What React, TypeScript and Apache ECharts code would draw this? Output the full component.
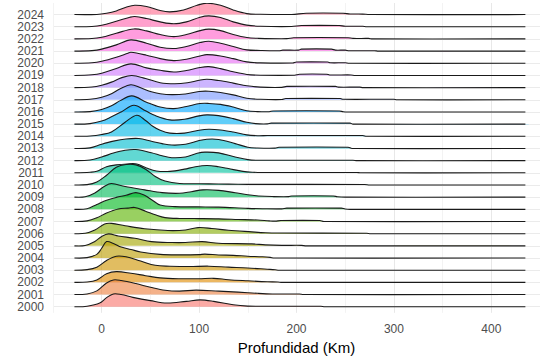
import React, { useEffect, useRef } from "react";
import * as echarts from "echarts";

const YEARS = [
  "2000", "2001", "2002", "2003", "2004", "2005", "2006", "2007", "2008", "2009",
  "2010", "2011", "2012", "2013", "2014", "2015", "2016", "2017", "2018", "2019",
  "2020", "2021", "2022", "2023", "2024",
];
const X_TICKS = [0, 100, 200, 300, 400];
const X_TITLE = "Profundidad (Km)";

// density heights: [depth km, height] (10 = one row spacing)
const r2000 = [[-28,0],[-15,0.4],[-2,3],[5,7.5],[12,10.5],[20,10],[32,7.7],[50,5],[67,3],[87,4.4],[101,5.6],[115,4.4],[135,1.6],[150,0.5],[165,0.4],[225,0.4],[229,0],[435,0]];
const r2001 = [[-28,0],[-15,0.5],[-5,3],[5,9.5],[12,12],[20,11.5],[35,9],[50,6],[65,3.5],[80,2.8],[97,3.6],[120,2.8],[140,2],[160,1],[175,0.5],[203,0.4],[207,0],[435,0]];
const r2002 = [[-28,0],[-15,0.3],[-5,2],[5,7],[15,8.8],[30,7.5],[45,5.5],[60,3.7],[80,3],[100,3],[115,3.3],[130,2.2],[150,1.3],[170,0.5],[181,0.3],[185,0],[435,0]];
const r2003 = [[-28,0],[-15,0.5],[-5,2.5],[5,8],[15,11.5],[25,11],[40,7.5],[55,4],[70,3.3],[90,3],[110,3.3],[130,2.5],[150,1.8],[170,0.8],[178,0.4],[182,0],[435,0]];
const r2004 = [[-28,0],[-15,0.3],[-5,3],[0,8],[5,13.5],[12,12],[20,9],[30,7],[40,5],[60,3],[80,2.6],[100,2.8],[106,3.2],[120,2.5],[135,2.2],[150,1.5],[165,1],[173,0.5],[177,0],[435,0]];
const r2005 = [[-28,0],[-17,0.3],[-7,3.6],[0,7.7],[7,9.8],[17,8.1],[34,6.2],[51,3.5],[72,2.7],[86,2.7],[103,3.5],[120,2.1],[154,1.6],[168,0.8],[185,0.4],[205,0.4],[210,0],[435,0]];
const r2006 = [[-28,0],[-17,0.3],[-7,3],[3,8],[10,8.5],[24,6.5],[44,4],[68,2.6],[86,3],[99,5],[113,4.3],[130,2.8],[154,1.5],[168,0.8],[180,0.5],[272,0.4],[276,0],[435,0]];
const r2007 = [[-28,0],[-15,0.5],[-5,3],[5,7],[17,10.3],[27,11],[34,11.5],[45,8.5],[55,5.5],[65,3.2],[80,2.5],[100,2.4],[120,2.2],[140,1.7],[160,1.2],[172,0.5],[178,0.3],[184,0.8],[224,0.8],[228,0],[435,0]];
const r2008 = [[-28,0],[-15,0.5],[-5,4],[5,7.5],[15,9.8],[25,11.5],[35,13.7],[44,11.5],[52,7.5],[60,3.5],[75,2.2],[100,2],[120,1.8],[150,0.8],[165,0.5],[185,0.4],[190,1],[246,1],[250,0.3],[255,0],[435,0]];
const r2009 = [[-28,0],[-17,0.3],[-7,3.5],[3,9],[10,11.2],[24,8.7],[44,6],[62,3.7],[80,3.2],[92,4.5],[104,6],[120,5.6],[137,3.6],[150,2],[161,1],[175,0.5],[192,0.4],[195,1],[238,1],[242,0.3],[250,0],[435,0]];
const r2010 = [[-28,0],[-15,0.3],[-5,2.5],[5,8],[15,14.5],[25,16.8],[35,16.5],[45,13],[55,7],[65,3.2],[80,1.2],[100,1],[120,0.8],[140,0.6],[160,0.5],[270,0.4],[275,0],[435,0]];
const r2011 = [[-28,0],[-12,0.5],[-5,1.2],[5,5],[15,6.5],[26,7.3],[36,7.3],[46,4],[56,1.5],[70,1.2],[85,3],[95,4.8],[108,6],[120,5],[130,3.5],[145,1.2],[155,0.5],[165,0.3],[262,0.3],[266,0],[435,0]];
const r2012 = [[-28,0],[-12,0.5],[0,3],[12,6.2],[24,8.5],[35,9.1],[51,6.5],[62,4],[72,2.4],[86,3],[98,6],[106,7],[120,6.4],[137,3],[150,0.8],[160,0.3],[258,0.3],[262,0],[435,0]];
const r2013 = [[-28,0],[-12,0.5],[0,3.5],[12,6],[25,7.8],[38,8.2],[51,6],[62,4],[72,2.8],[86,3.4],[100,6.5],[108,7.6],[120,7.4],[137,4],[150,1],[160,0.4],[178,0.3],[182,1],[253,1],[257,0],[435,0]];
const r2014 = [[-28,0],[-12,0.3],[0,1.5],[10,3.6],[24,11.5],[36,17.3],[45,13],[52,8.5],[60,5],[70,2.6],[85,2.6],[100,5],[110,5.8],[122,5.2],[135,3.5],[149,1.2],[160,0.5],[170,0.6],[268,0.6],[272,0],[435,0]];
const r2015 = [[-28,0],[-12,0.4],[0,2.5],[10,6],[20,10],[33,15.5],[45,11],[55,7],[70,3.5],[85,4],[100,6.8],[108,7.6],[120,7],[135,4.5],[149,1.5],[158,0.4],[170,0.2],[174,0.8],[255,0.8],[258,0],[435,0]];
const r2016 = [[-28,0],[-12,0.3],[0,2],[10,5],[19,9.3],[31,13.2],[46,8],[60,4],[74,2.7],[87,4.5],[101,6.9],[110,7],[122,6.2],[135,4],[149,1],[160,0.3],[172,0.2],[176,0.8],[244,0.8],[248,0.2],[252,0],[435,0]];
const r2017 = [[-28,0],[-12,0.4],[0,2],[10,5],[19,9],[30,12.3],[40,9.8],[50,6.8],[60,5],[72,4.2],[86,4.8],[100,6.8],[110,7],[122,6],[135,4],[149,1.3],[163,0.4],[185,0.2],[189,1],[245,1],[248,0.4],[300,0.4],[303,0],[435,0]];
const r2018 = [[-28,0],[-10,0.5],[0,2],[10,4.5],[20,8],[31,10],[45,7.5],[60,4],[75,3.2],[88,4],[100,6],[108,6.8],[120,5.8],[135,3.7],[149,1.5],[163,0.4],[185,0.2],[190,1],[240,1],[243,0.4],[265,0.4],[268,0],[435,0]];
const r2019 = [[-28,0],[-10,0.5],[0,1.8],[15,5.7],[30,9.5],[46,6.2],[60,4.2],[74,2.8],[87,4],[101,6.5],[110,7.2],[122,5.6],[135,3],[149,0.8],[163,0.2],[198,0.2],[203,1],[231,1],[234,0.4],[256,0.4],[260,0],[435,0]];
const r2020 = [[-28,0],[-10,0.4],[0,1.6],[15,4.9],[27,8.2],[30,9],[46,6.6],[60,3.8],[74,2.2],[87,3.3],[101,6],[108,7.1],[122,6],[135,3.8],[149,1.1],[163,0.3],[196,0.2],[200,1],[232,1],[235,0.4],[250,0.4],[254,0],[435,0]];
const r2021 = [[-28,0],[-10,0.4],[0,1.6],[15,5.1],[30,9.2],[46,6.5],[60,3.2],[74,2.1],[87,3.8],[101,7],[110,8.1],[122,6.5],[135,3.8],[149,1],[163,0.5],[182,0.3],[186,0.8],[202,0.8],[205,1.6],[236,1.6],[240,0.8],[250,0.8],[254,0.3],[280,0.3],[284,0],[435,0]];
const r2022 = [[-28,0],[-10,0.3],[0,1.4],[15,4.7],[33,8.2],[46,6.6],[60,3.6],[74,1.9],[87,3.6],[101,6.8],[110,8],[122,6.8],[135,3.6],[149,1.1],[160,0.5],[190,0.2],[197,1],[253,1],[258,0.4],[274,0.4],[278,0],[435,0]];
const r2023 = [[-28,0],[-10,0.2],[0,1.2],[15,4.5],[29,7.8],[34,8.4],[46,6.7],[60,4],[74,2.4],[87,4],[101,7.8],[110,8.9],[122,7.6],[135,4],[149,1.3],[163,0.4],[195,0.2],[205,1],[244,1],[250,0.4],[268,0.4],[272,0],[435,0]];
const r2024 = [[-28,0],[-5,0.1],[5,1.1],[15,3],[25,6],[34,7.7],[46,6.6],[60,3.3],[70,2.2],[84,3.8],[98,7.7],[108,9.3],[122,7.7],[135,3.8],[149,0.8],[163,0.2],[195,0.1],[210,1.1],[248,1.1],[255,0.5],[268,0.4],[275,0],[435,0]];

const RIDGES = [
  r2000, r2001, r2002, r2003, r2004, r2005, r2006, r2007, r2008, r2009,
  r2010, r2011, r2012, r2013, r2014, r2015, r2016, r2017, r2018, r2019,
  r2020, r2021, r2022, r2023, r2024,
];

const ROW = 10;
const FONT = "'Liberation Sans', Arial, Helvetica, sans-serif";

function hclColor(h: number, c: number, l: number, alpha: number): string {
  const hr = (h * Math.PI) / 180;
  const U = c * Math.cos(hr);
  const V = c * Math.sin(hr);
  const Xn = 95.047, Yn = 100, Zn = 108.883;
  const Y = l > 8 ? Yn * Math.pow((l + 16) / 116, 3) : (Yn * l) / 903.3;
  const t = Xn + 15 * Yn + 3 * Zn;
  const un = (4 * Xn) / t;
  const vn = (9 * Yn) / t;
  const u = U / (13 * l) + un;
  const v = V / (13 * l) + vn;
  const X = (Y * 9 * u) / (4 * v);
  const Z = (Y * (12 - 3 * u - 20 * v)) / (4 * v);
  const x = X / 100, y = Y / 100, z = Z / 100;
  const lin = [
    3.240479 * x - 1.53715 * y - 0.498535 * z,
    -0.969256 * x + 1.875992 * y + 0.041556 * z,
    0.055648 * x - 0.204043 * y + 1.057311 * z,
  ];
  const rgb = lin.map((q) => {
    const g = q <= 0.0031308 ? 12.92 * q : 1.055 * Math.pow(q, 1 / 2.4) - 0.055;
    return Math.round(Math.max(0, Math.min(1, g)) * 255);
  });
  return `rgba(${rgb[0]},${rgb[1]},${rgb[2]},${alpha})`;
}

export default function App() {
  const ref = useRef<HTMLDivElement>(null);

  useEffect(() => {
    if (!ref.current) return;
    const chart = echarts.init(ref.current, undefined, { renderer: "svg" });
    const n = YEARS.length;
    const fills = YEARS.map((_, i) => hclColor(15 + (360 / n) * i, 100, 65, 0.62));

    const series: any[] = [];
    for (let i = n - 1; i >= 0; i--) {
      const idx = i;
      series.push({
        type: "custom",
        silent: true,
        clip: true,
        data: [[RIDGES[idx][0][0], idx * ROW]],
        encode: { x: 0, y: 1 },
        renderItem: (_params: any, api: any) => {
          const pts = RIDGES[idx].map((p) => api.coord([p[0], idx * ROW + p[1]]));
          return {
            type: "group",
            children: [
              {
                type: "polygon",
                shape: { points: pts, smooth: 0.35 },
                style: { fill: fills[idx], stroke: "none" },
              },
              {
                type: "polyline",
                shape: { points: pts, smooth: 0.35 },
                style: { stroke: "#1a1a1a", lineWidth: 1.1, fill: "none" },
              },
            ],
          };
        },
      });
    }

    chart.setOption({
      animation: false,
      backgroundColor: "#ffffff",
      grid: {
        left: 53,
        right: 0,
        top: 3,
        bottom: 43.2,
        containLabel: false,
        outerBoundsMode: "none",
      },
      xAxis: {
        type: "value",
        min: -50,
        max: 450,
        interval: 50,
        axisLine: { show: false },
        axisTick: { show: false },
        axisLabel: {
          fontSize: 12,
          color: "#4d4d4d",
          fontFamily: FONT,
          margin: 10,
          formatter: (v: number) => (X_TICKS.indexOf(v) >= 0 ? String(v) : ""),
        },
        splitLine: {
          show: true,
          lineStyle: { color: ["#f3f3f3", "#e8e8e8"], width: 1 },
        },
        name: X_TITLE,
        nameLocation: "middle",
        nameGap: 23,
        nameTextStyle: { fontSize: 15, color: "#000000", fontFamily: FONT },
      },
      yAxis: {
        type: "value",
        min: -5,
        max: 249.5,
        interval: 5,
        axisLine: { show: false },
        axisTick: { show: false },
        axisLabel: {
          fontSize: 12,
          lineHeight: 12,
          color: "#4d4d4d",
          fontFamily: FONT,
          margin: 9,
          showMaxLabel: false,
          formatter: (v: number) => {
            const k = v / ROW;
            const r = Math.round(k);
            if (Math.abs(k - r) < 1e-6 && r >= 0 && r < YEARS.length) return YEARS[r];
            return "";
          },
        },
        splitLine: {
          show: true,
          showMaxLine: false,
          lineStyle: { color: ["rgba(0,0,0,0)", "#ebebeb"], width: 1 },
        },
      },
      series,
    });

    return () => {
      chart.dispose();
    };
  }, []);

  return (
    <div
      ref={ref}
      style={{ position: "absolute", left: 0, top: 0, width: 540, height: 356 }}
    />
  );
}
